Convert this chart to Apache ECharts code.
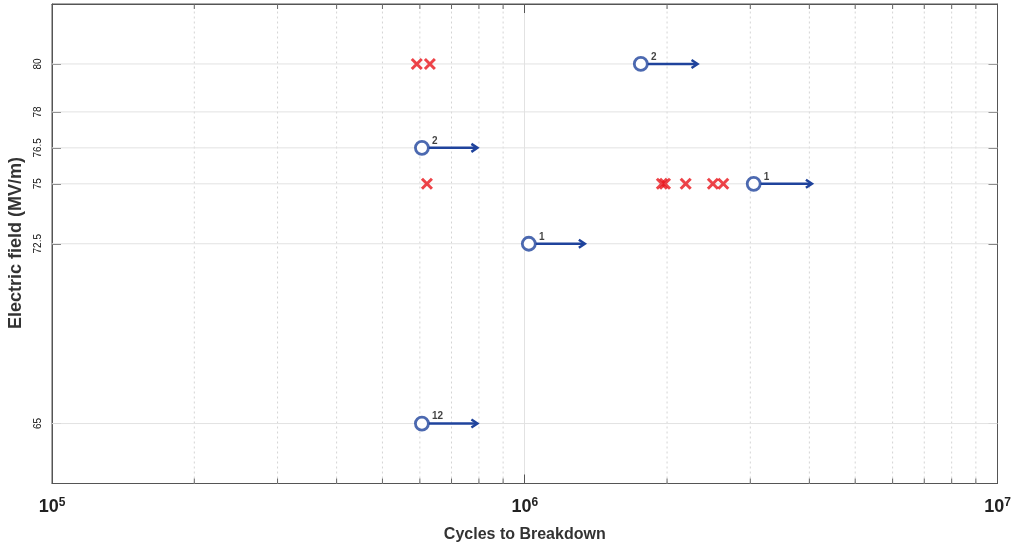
<!DOCTYPE html>
<html>
<head>
<meta charset="utf-8">
<script src="https://cdn.jsdelivr.net/npm/echarts@6/dist/echarts.min.js"></script>
<style>
html,body{margin:0;padding:0;background:#fff;}
#c{width:1013px;height:547px;}
</style>
</head>
<body>
<div id="c"></div>
<script>
// ---- data ----
var yTicks = [65, 72.5, 75, 76.5, 78, 80];
var xMinorTicks = [2e5, 3e5, 4e5, 5e5, 6e5, 7e5, 8e5, 9e5, 2e6, 3e6, 4e6, 5e6, 6e6, 7e6, 8e6, 9e6];
var xMajorExp = {100000: '5', 1000000: '6', 10000000: '7'};

var failX = [5.91e5, 6.30e5, 6.21e5, 1.95e6, 1.98e6, 2.19e6, 2.50e6, 2.63e6];
var failY = [80, 80, 75, 75, 75, 75, 75, 75];

var runoutX = [1.76e6, 6.06e5, 3.05e6, 1.02e6, 6.06e5];
var runoutY = [80, 76.5, 75, 72.5, 65];
var runoutCount = ['2', '2', '1', '1', '12'];
var arrowEndX = [2.32e6, 7.94e5, 4.05e6, 1.34e6, 7.94e5];

var X_MIN = 1e5, X_MAX = 1e7, Y_MIN = 62.5, Y_MAX = 82.5;
var BLUE = '#1f439c', RED = '#e8141a';
var FONT = 'Liberation Sans, Arial, sans-serif';

var chart = echarts.init(document.getElementById('c'));

var failData = failX.map(function (x, i) { return [x, failY[i]]; });
var runoutData = runoutX.map(function (x, i) { return [x, runoutY[i], runoutCount[i]]; });
var arrowData = runoutX.map(function (x, i) { return [x, runoutY[i], arrowEndX[i]]; });

var option = {
  animation: false,
  backgroundColor: '#fff',
  grid: { left: 52, right: 15.5, top: 4, bottom: 63.5, outerBoundsMode: 'none', containLabel: false, show: true, borderColor: '#555', borderWidth: 1 },
  xAxis: [{
    type: 'log', logBase: 10, min: X_MIN, max: X_MAX,
    axisLine: { show: true, lineStyle: { color: '#555', width: 1 } },
    axisTick: { show: true, inside: true, length: 9, lineStyle: { color: '#555' } },
    splitLine: { show: true, lineStyle: { color: '#e2e2e2', width: 1 } },
    axisLabel: {
      margin: 13,
      formatter: function (v) { return '{b|10}{s|' + (xMajorExp[Math.round(v)] || '') + '}'; },
      rich: {
        b: { fontSize: 18, fontWeight: 'bold', color: '#222', fontFamily: FONT, lineHeight: 22 },
        s: { fontSize: 12, fontWeight: 'bold', color: '#222', fontFamily: FONT, verticalAlign: 'top', lineHeight: 12, padding: [0, 0, 10, 0] }
      }
    },
    name: 'Cycles to Breakdown', nameLocation: 'middle', nameGap: 43,
    nameTextStyle: { fontSize: 16, fontWeight: 'bold', color: '#333', fontFamily: FONT }
  }, {
    type: 'log', logBase: 10, min: X_MIN, max: X_MAX, position: 'top',
    axisLine: { show: true, lineStyle: { color: '#555' } },
    axisTick: { show: true, inside: true, length: 9, lineStyle: { color: '#555' } },
    axisLabel: { show: false }, splitLine: { show: false }
  }],
  yAxis: [{
    type: 'value', min: Y_MIN, max: Y_MAX,
    axisLine: { show: true, lineStyle: { color: '#555' } },
    axisTick: { show: true, inside: true, length: 9, customValues: yTicks, lineStyle: { color: '#666' } },
    splitLine: { show: false },
    axisLabel: {
      customValues: yTicks, rotate: 90, margin: 9,
      fontSize: 10, color: '#111', fontFamily: FONT,
      formatter: function (v) { return String(v); }
    }
  }, {
    type: 'value', min: Y_MIN, max: Y_MAX, position: 'right',
    axisLine: { show: true, lineStyle: { color: '#555' } },
    axisTick: { show: true, inside: true, length: 9, customValues: yTicks, lineStyle: { color: '#666' } },
    axisLabel: { show: false }, splitLine: { show: false }
  }],
  graphic: [{
    type: 'text', x: 16, y: 243, rotation: Math.PI / 2,
    style: { text: 'Electric field (MV/m)', font: 'bold 18px Liberation Sans, Arial, sans-serif', fill: '#333', align: 'center', verticalAlign: 'middle' }
  }],
  series: [
    {
      // minor log gridlines + minor ticks
      type: 'custom', silent: true, z: 1, clip: false,
      data: xMinorTicks.map(function (v) { return [v]; }),
      encode: { x: 0 },
      renderItem: function (params, api) {
        var v = api.value(0);
        var b = api.coord([v, Y_MIN]), t = api.coord([v, Y_MAX]);
        return { type: 'group', children: [
          { type: 'line', shape: { x1: b[0], y1: b[1], x2: t[0], y2: t[1] }, style: { stroke: '#d4d4d4', lineWidth: 1, lineDash: [2, 3] } },
          { type: 'line', shape: { x1: b[0], y1: b[1], x2: b[0], y2: b[1] - 5 }, style: { stroke: '#666', lineWidth: 1 } },
          { type: 'line', shape: { x1: t[0], y1: t[1], x2: t[0], y2: t[1] + 5 }, style: { stroke: '#666', lineWidth: 1 } }
        ] };
      }
    },
    {
      // horizontal gridlines at y ticks
      type: 'custom', silent: true, z: 1,
      data: yTicks.map(function (v) { return [v]; }),
      encode: { y: 0 },
      renderItem: function (params, api) {
        var v = api.value(0);
        var l = api.coord([X_MIN, v]), r = api.coord([X_MAX, v]);
        return { type: 'line', shape: { x1: l[0], y1: l[1], x2: r[0], y2: r[1] }, style: { stroke: '#e2e2e2', lineWidth: 1 } };
      }
    },
    {
      // run-out arrows
      type: 'custom', silent: true, z: 3,
      data: arrowData,
      encode: { x: [0, 2], y: 1 },
      renderItem: function (params, api) {
        var p0 = api.coord([api.value(0), api.value(1)]);
        var p1 = api.coord([api.value(2), api.value(1)]);
        return { type: 'group', children: [
          { type: 'line', shape: { x1: p0[0] + 7, y1: p0[1], x2: p1[0] - 1, y2: p1[1] }, style: { stroke: BLUE, lineWidth: 2.5 } },
          { type: 'polyline', shape: { points: [[p1[0] - 6, p1[1] - 4], [p1[0], p1[1]], [p1[0] - 6, p1[1] + 4]] }, style: { stroke: BLUE, lineWidth: 2.5, fill: null } }
        ] };
      }
    },
    {
      type: 'scatter', name: 'run-out', z: 4,
      data: runoutData,
      symbol: 'circle', symbolSize: 13,
      itemStyle: { color: '#fff', borderColor: BLUE, borderWidth: 2.8 },
      label: {
        show: true, position: [18, 1], align: 'left', verticalAlign: 'middle',
        formatter: function (p) { return p.data[2]; },
        fontSize: 10, fontWeight: 'bold', color: '#111', fontFamily: FONT
      }
    },
    {
      type: 'scatter', name: 'failure', z: 4,
      data: failData,
      symbol: 'path://M0,0L10,10M10,0L0,10', symbolSize: 10,
      itemStyle: { color: 'rgba(0,0,0,0)', borderColor: RED, borderWidth: 3 }
    }
  ]
};
chart.setOption(option);
</script>
</body>
</html>
